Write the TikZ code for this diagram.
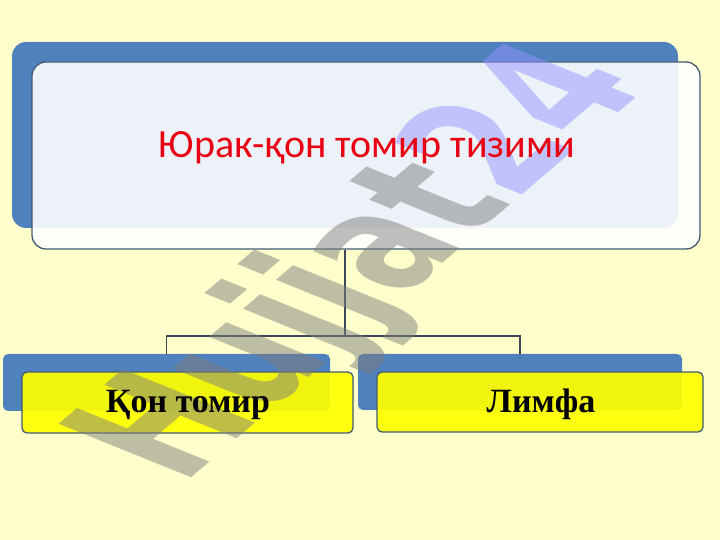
\documentclass[tikz,border=0pt]{standalone}
\usepackage{fontspec}
\setmainfont{Liberation Serif}
\newfontfamily\titlefont{Carlito}
\newfontfamily\wmfont{DejaVu Sans}
\definecolor{bgyellow}{RGB}{255,255,204}
\definecolor{boxblue}{RGB}{79,129,189}
\definecolor{edgeslate}{RGB}{66,90,116}
\definecolor{linkslate}{RGB}{60,72,88}
\definecolor{titlered}{RGB}{232,0,18}
\definecolor{boxyellow}{RGB}{255,255,0}
\definecolor{wmgray}{RGB}{127,127,127}
\definecolor{wmblue}{RGB}{147,147,255}
\tikzset{
  bigback/.style={fill=boxblue, rounded corners=14pt, inner sep=0pt},
  bigfront/.style={fill=white, fill opacity=0.9, draw=edgeslate, line width=1.3pt, rounded corners=14pt, inner sep=0pt},
  smallback/.style={fill=boxblue, rounded corners=5pt, inner sep=0pt},
  smallfront/.style={fill=boxyellow, fill opacity=0.92, draw=edgeslate, line width=1.3pt, rounded corners=5pt, inner sep=0pt},
  link/.style={draw=linkslate, line width=1.3pt},
  titletext/.style={font=\titlefont\fontsize{40}{48}\selectfont, text=titlered, inner sep=0pt, anchor=base},
  itemtext/.style={font=\bfseries\fontsize{34}{40}\selectfont, text=black, inner sep=0pt, anchor=base},
  wmtext/.style={font=\wmfont\bfseries\fontsize{100}{100}\selectfont, text opacity=0.5, inner sep=0pt, anchor=base west, transform shape}
}
\begin{document}
\begin{tikzpicture}[x=1pt,y=1pt]
\fill[bgyellow] (0,0) rectangle (720,540);
\useasboundingbox (0,0) rectangle (720,540);
% top boxes
\node[bigback, minimum width=666pt, minimum height=186pt] (topback) at (345,405) {};
\node[bigfront, minimum width=668pt, minimum height=187pt] (topfront) at (366,384.5) {};
% bottom boxes
\node[smallback, minimum width=327pt, minimum height=57pt] (lback) at (166.5,157.5) {};
\node[smallback, minimum width=324pt, minimum height=56pt] (rback) at (520,158) {};
% connectors
\coordinate (mid) at (topback.south |- 0,204);
\draw[link] (topfront.south -| topback.south) -- (mid);
\draw[link] (mid) -| (lback.north);
\draw[link] (mid) -| (rback.north);
\node[smallfront, minimum width=331pt, minimum height=61pt] (lfront) at (187.5,137.5) {};
\node[smallfront, minimum width=326pt, minimum height=60pt] (rfront) at (540,138) {};
% watermark
\begin{scope}[cm={0.981,0.838,-1.817,0.735,(182pt,54pt)}]
\node[wmtext] (wm) at (0,0) {\textcolor{wmgray}{Hujjat}\textcolor{wmblue}{24}};
\end{scope}
% texts
\node[titletext] (title) at (367,382) {Юрак-қон томир тизими};
\node[itemtext] (ltext) at (188,127) {Қон томир};
\node[itemtext] (rtext) at (541,127) {Лимфа};
\end{tikzpicture}
\end{document}
